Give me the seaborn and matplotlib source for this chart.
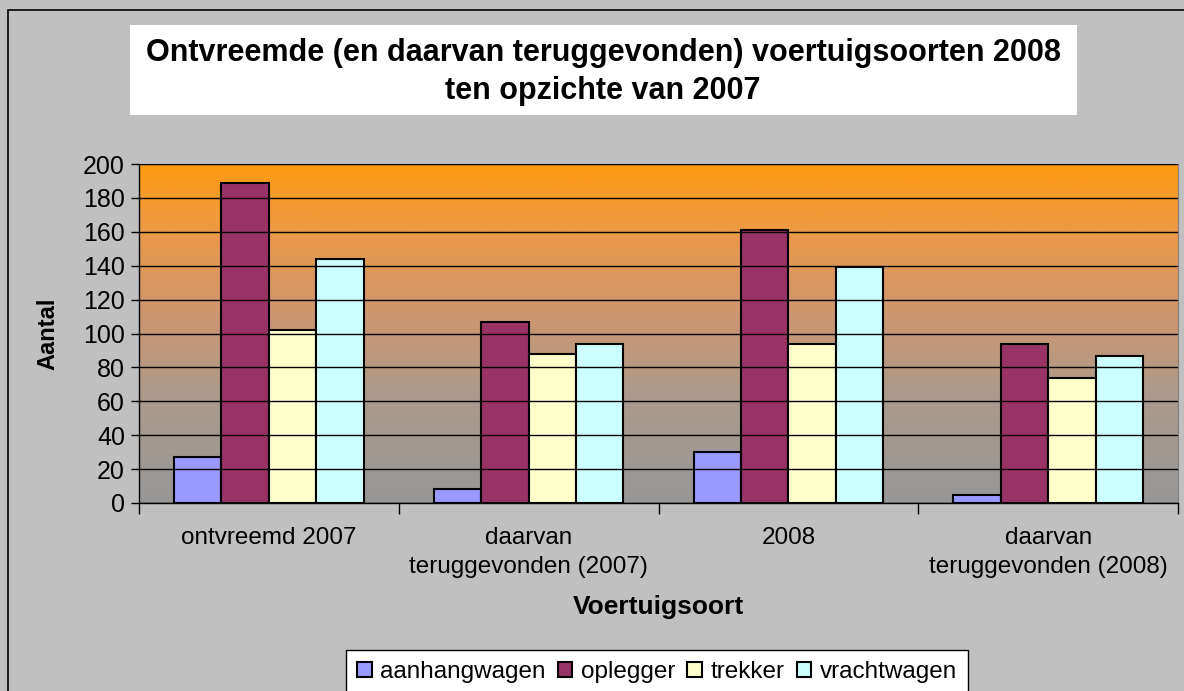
import numpy as np
import pandas as pd
import matplotlib.pyplot as plt
import seaborn as sns
from matplotlib.patches import Rectangle
from matplotlib.colors import LinearSegmentedColormap

# 01- Data
categories = ["ontvreemd 2007", "daarvan\nteruggevonden (2007)",
              "2008", "daarvan\nteruggevonden (2008)"]
series = ["aanhangwagen", "oplegger", "trekker", "vrachtwagen"]
aanhangwagen = [27, 8, 30, 5]
oplegger = [189, 107, 161, 94]
trekker = [102, 88, 94, 74]
vrachtwagen = [144, 94, 139, 87]
yticks = [0, 20, 40, 60, 80, 100, 120, 140, 160, 180, 200]
colors = ["#9999FF", "#993366", "#FFFFCC", "#CCFFFF"]

df = pd.DataFrame({
    "categorie": categories * 4,
    "soort": np.repeat(series, len(categories)),
    "aantal": aanhangwagen + oplegger + trekker + vrachtwagen,
})

plt.rcParams['font.family'] = ['Liberation Sans', 'DejaVu Sans']

# 02- Figure and axes
fig = plt.figure(figsize=(11.84, 6.91), dpi=100, facecolor="#C0C0C0")
ax = fig.add_axes([139 / 1184, 1 - 503 / 691, (1178 - 139) / 1184, (503 - 164) / 691])

sns.barplot(data=df, x="categorie", y="aantal", hue="soort", order=categories,
            hue_order=series, palette=colors, width=0.73, edgecolor="black",
            linewidth=1.5, saturation=1, ax=ax, zorder=2)

# gradient background orange -> grey (bottom to top stops)
cmap = LinearSegmentedColormap.from_list(
    "bg", [(0.0, "#979797"), (0.3, "#AA9A8C"), (0.55, "#CC9670"),
           (0.8, "#EC9A48"), (1.0, "#FF9A10")])
ax.imshow(np.linspace(0, 1, 256).reshape(-1, 1), extent=[-0.5, 3.5, 0, 200],
          aspect="auto", cmap=cmap, origin="lower", zorder=0)

ax.set_xlim(-0.5, 3.5)
ax.set_ylim(0, 200)
ax.set_yticks(yticks)
ax.set_yticklabels([str(v) for v in yticks], fontsize=18)
ax.yaxis.grid(True, color="black", linewidth=1)
ax.xaxis.grid(False)
ax.set_axisbelow(False)
for line in ax.get_ygridlines():
    line.set_zorder(1)

ax.set_xticks(range(len(categories)))
ax.set_xticklabels(categories, fontsize=17.5, linespacing=1.45)
ax.tick_params(axis="x", which="major", length=0, pad=17)
ax.set_xticks([-0.5, 0.5, 1.5, 2.5, 3.5], minor=True)
ax.tick_params(axis="x", which="minor", length=8, width=1, color="black")
ax.tick_params(axis="y", length=6, width=1, color="black", pad=4)

for side in ["top", "right"]:
    ax.spines[side].set_color("#808080")
for side in ["left", "bottom"]:
    ax.spines[side].set_color("black")
    ax.spines[side].set_linewidth(1)

ax.set_xlabel("Voertuigsoort", fontsize=19, fontweight="bold", labelpad=12)
ax.set_ylabel("Aantal", fontsize=17, fontweight="bold", labelpad=17)

# 03- Title box
fig.patches.append(Rectangle((130 / 1184, 1 - 115 / 691), (1077 - 130) / 1184, 90 / 691,
                             transform=fig.transFigure, facecolor="white",
                             edgecolor="none", zorder=0))
fig.text(603 / 1184, 1 - 72 / 691,
         "Ontvreemde (en daarvan teruggevonden) voertuigsoorten 2008\nten opzichte van 2007",
         ha="center", va="center", fontsize=22, fontweight="bold", linespacing=1.35)

# outer chart border
fig.patches.append(Rectangle((8 / 1184, -0.01), 1.0, 1 - 10 / 691 + 0.01,
                             transform=fig.transFigure, facecolor="none",
                             edgecolor="black", linewidth=1.2, zorder=0))

# 04- Legend
handles, labels = ax.get_legend_handles_labels()
ax.get_legend().remove()
fig.legend(handles, labels, loc="upper center", bbox_to_anchor=(657 / 1184, 1 - 650 / 691),
           ncol=4, frameon=True, fancybox=False, edgecolor="black", facecolor="white",
           fontsize=17.5, handlelength=0.6, handleheight=0.6, handletextpad=0.35,
           columnspacing=0.5, borderpad=0.45, borderaxespad=0, framealpha=1)

fig.savefig("out.png", dpi=100, facecolor=fig.get_facecolor())
